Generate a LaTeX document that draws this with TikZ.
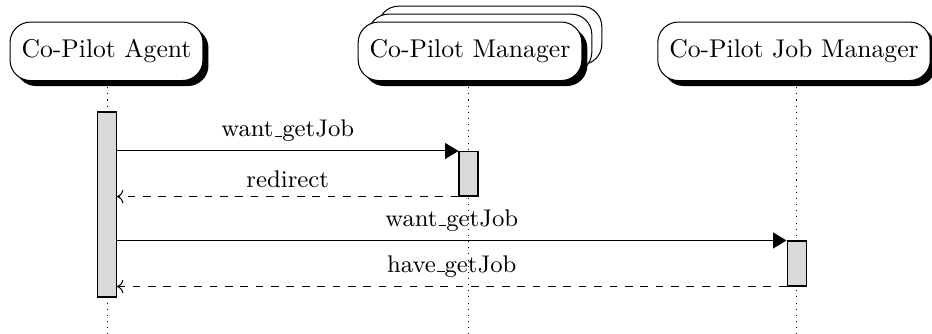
\documentclass[tikz,border=0pt]{standalone}
\usetikzlibrary{shadows,arrows.meta,fit}
% short underscore, as drawn by the classic OT1 \_
\newcommand\usbar{\leavevmode\kern.06em\vbox{\hrule width.3em}}
\begin{document}
\begin{tikzpicture}[x=0.39pt,y=-0.39pt,
  inst/.style={draw, fill=white, rounded corners=8pt, minimum height=22.8pt,
    inner xsep=4.5pt,
    drop shadow={opacity=1, fill=black, shadow xshift=2.15pt, shadow yshift=-2.15pt}},
  multi/.style={double copy shadow={shadow xshift=3.9pt, shadow yshift=3.1pt}},
  life/.style={dotted},
  bar/.style={draw, fill=gray!30, inner sep=0pt},
  call/.style={-{Triangle[length=5.2pt,width=6.2pt]}},
  ret/.style={dashed, ->},
  msg/.style={above, font=\fontsize{9.4}{11}\selectfont}]
\useasboundingbox (0,0) rectangle (932,334);

% instances
\node[inst] (agent) at (106.5,51.3) {Co-Pilot Agent};
\node[multi, inst] (mgr) at (470,51.3) {Co-Pilot Manager};
\node[inst] (job) at (794,51.3) {Co-Pilot Job Manager};

% lifelines
\coordinate (endA) at (107.5,334);
\coordinate (endM) at (468.5,334);
\coordinate (endJ) at (796.5,334);
\draw[life] (agent.south -| endA) -- (endA);
\draw[life] (mgr.south -| endM) -- (endM);
\draw[life] (job.south -| endJ) -- (endJ);

% activation bars
\node[bar, fit={(97.5,112)(116.5,297)}] (barA) {};
\node[bar, fit={(459,151.5)(478,196)}] (barM) {};
\node[bar, fit={(787,241)(806,286)}] (barJ) {};

% messages
\draw[call] (barA.east |- barM.north) -- node[msg]{want\usbar getJob} (barM.north west);
\draw[ret] (barM.south west) -- node[msg]{redirect} (barA.east |- barM.south);
\draw[call] (barA.east |- barJ.north) -- node[msg]{want\usbar getJob} (barJ.north west);
\draw[ret] (barJ.south west) -- node[msg]{have\usbar getJob} (barA.east |- barJ.south);
\end{tikzpicture}
\end{document}
